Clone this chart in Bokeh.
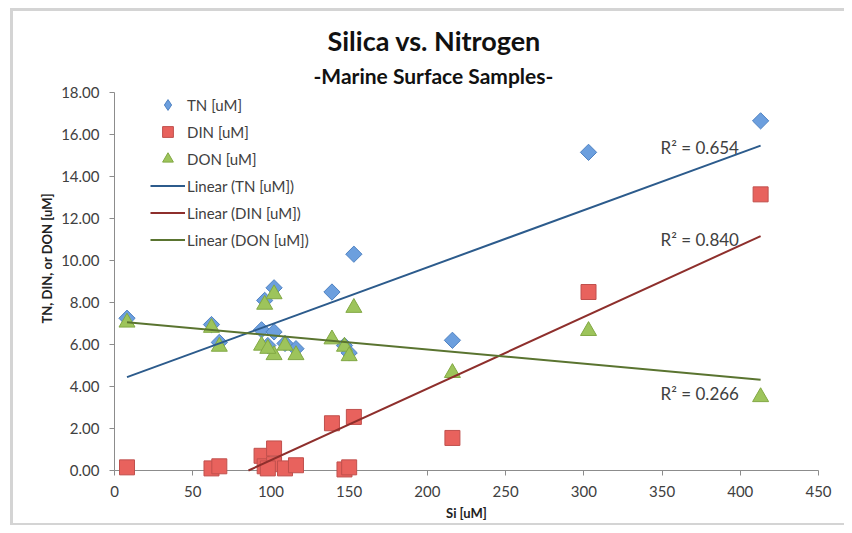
import numpy as np
from bokeh.plotting import figure
from bokeh.models import (ColumnDataSource, Range1d, FixedTicker, NumeralTickFormatter,
                          Legend, LegendItem, Label, Title)
from bokeh.embed import file_html
from bokeh.resources import INLINE

# ---- data ----
si  = [8, 62, 67, 94, 96, 102, 102, 98, 109, 116, 139, 153, 147, 150, 216, 303, 413]
tn  = [7.25, 6.95, 6.1, 6.7, 8.1, 8.7, 6.6, 5.95, 6.05, 5.8, 8.5, 10.3, 5.95, 5.6, 6.2, 15.15, 16.65]
din = [0.15, 0.1, 0.2, 0.7, 0.2, 0.3, 1.05, 0.1, 0.1, 0.25, 2.25, 2.55, 0.05, 0.15, 1.55, 8.5, 13.15]
don = [7.05, 6.8, 5.9, 5.95, 7.9, 8.4, 5.5, 5.8, 5.95, 5.5, 6.25, 7.75, 5.9, 5.45, 4.65, 6.65, 3.5]
r2_labels = ["R\u00b2 = 0.654", "R\u00b2 = 0.840", "R\u00b2 = 0.266"]
x_ticks = [0, 50, 100, 150, 200, 250, 300, 350, 400, 450]
y_ticks = [0, 2, 4, 6, 8, 10, 12, 14, 16, 18]

FONT = "Lato"
TXT = "#404040"
Y_MIN, Y_MAX = 0, 18

p = figure(width=844, height=525, output_backend="svg", toolbar_location=None,
           x_range=Range1d(0, 450), y_range=Range1d(Y_MIN, Y_MAX),
           min_border_left=114, min_border_right=26, min_border_top=92, min_border_bottom=55,
           background_fill_color="white", border_fill_color=None,
           styles={"background-color": "white",
                   "box-shadow": "inset 10px 8px 0 #ffffff, inset 13px 11px 0 #d4d4d4, "
                                 "inset 0 -2px 0 #d4d4d4"})
p.outline_line_color = None
p.xgrid.visible = False
p.ygrid.visible = False

# axes
for ax in (p.xaxis[0], p.yaxis[0]):
    ax.axis_line_color = "#8c8c8c"
    ax.major_tick_line_color = "#8c8c8c"
    ax.minor_tick_line_color = None
    ax.major_tick_out = 5
    ax.major_tick_in = 0
    ax.major_label_text_font = FONT
    ax.major_label_text_font_size = "15px"
    ax.major_label_text_color = TXT
    ax.axis_label_text_font = FONT
    ax.axis_label_text_font_style = "bold"
    ax.axis_label_text_color = "#222222"
p.xaxis.ticker = FixedTicker(ticks=x_ticks)
p.yaxis.ticker = FixedTicker(ticks=y_ticks)
p.yaxis.formatter = NumeralTickFormatter(format="0.00")
p.xaxis.axis_label = "Si [uM]"
p.xaxis.axis_label_text_font_size = "13px"
p.xaxis.major_label_standoff = 10
p.yaxis.major_label_standoff = 10
p.xaxis.axis_label_standoff = 5

# y-axis title as a side title (sits slightly above the axis centre)
p.add_layout(Title(text="TN, DIN, or DON [uM]", text_font=FONT, text_font_style="bold",
                   text_font_size="13px", text_color="#222222", align="left",
                   offset=147, standoff=8), "left")

# chart titles (subtitle first -> nearest to the plot)
p.add_layout(Title(text="-Marine Surface Samples-", text_font=FONT, text_font_style="bold",
                   text_font_size="21px", text_color="#111111", align="left",
                   offset=199, standoff=9), "above")
p.add_layout(Title(text="Silica vs. Nitrogen", text_font=FONT, text_font_style="bold",
                   text_font_size="27px", text_color="#111111", align="left",
                   offset=213, standoff=0), "above")

src = ColumnDataSource(dict(si=si, tn=tn, din=din, don=don))

# markers drawn at an unclipped level so points on the x axis stay whole
r_tn = p.scatter("si", "tn", source=src, marker="square", size=11.5, angle=np.pi / 4,
                 fill_color="#6C9FDE", line_color="#4F82C2", line_width=1, level="annotation")
r_din = p.scatter("si", "din", source=src, marker="square", size=15,
                  fill_color="#E8625D", line_color="#C0504D", line_width=1, level="annotation")
r_don = p.scatter("si", "don", source=src, marker="triangle", size=16,
                  fill_color="#9DC45B", line_color="#82A844", line_width=1, level="annotation")
# legend key for the TN diamond (legend ignores marker angle); zero size on the plot
r_tn_key = p.scatter("si", "tn", source=src, marker="diamond", size=0,
                     fill_color="#6C9FDE", line_color="#4F82C2", line_width=1)

# linear trend lines (least squares from the data), cut at the axis minimum
xs = np.array(si, dtype=float)
x_lo, x_hi = xs.min(), xs.max()
line_cols = ["#2C5B8C", "#8E2F2C", "#5A7430"]
trend_renderers = []
for ys, col in zip((tn, din, don), line_cols):
    k, b = np.polyfit(xs, np.array(ys, dtype=float), 1)
    x0 = x_lo
    if k * x0 + b < Y_MIN and k > 0:
        x0 = (Y_MIN - b) / k
    r = p.line([x0, x_hi], [k * x0 + b, k * x_hi + b], line_color=col, line_width=2,
               level="overlay")
    trend_renderers.append((r, k, b))

# R^2 labels, placed near the right end of each trend line
offsets_y = [-2, -3, -14]
for (r, k, b), lab, dy in zip(trend_renderers, r2_labels, offsets_y):
    p.add_layout(Label(x=x_hi, y=k * x_hi + b, text=lab, x_offset=-100, y_offset=dy,
                       text_font=FONT, text_font_size="17px", text_color=TXT,
                       text_baseline="middle"))

legend = Legend(items=[
    LegendItem(label="TN [uM]", renderers=[r_tn_key]),
    LegendItem(label="DIN [uM]", renderers=[r_din]),
    LegendItem(label="DON [uM]", renderers=[r_don]),
    LegendItem(label="Linear (TN [uM])", renderers=[trend_renderers[0][0]]),
    LegendItem(label="Linear (DIN [uM])", renderers=[trend_renderers[1][0]]),
    LegendItem(label="Linear (DON [uM])", renderers=[trend_renderers[2][0]]),
], location=(36, 217))
legend.background_fill_alpha = 0
legend.border_line_color = None
legend.padding = 0
legend.margin = 0
legend.spacing = 0
legend.glyph_width = 35
legend.glyph_height = 27
legend.label_height = 27
legend.label_standoff = 2
legend.label_text_font = FONT
legend.label_text_font_size = "15px"
legend.label_text_color = TXT
p.add_layout(legend)

open("out.html", "w").write(file_html(p, INLINE))
